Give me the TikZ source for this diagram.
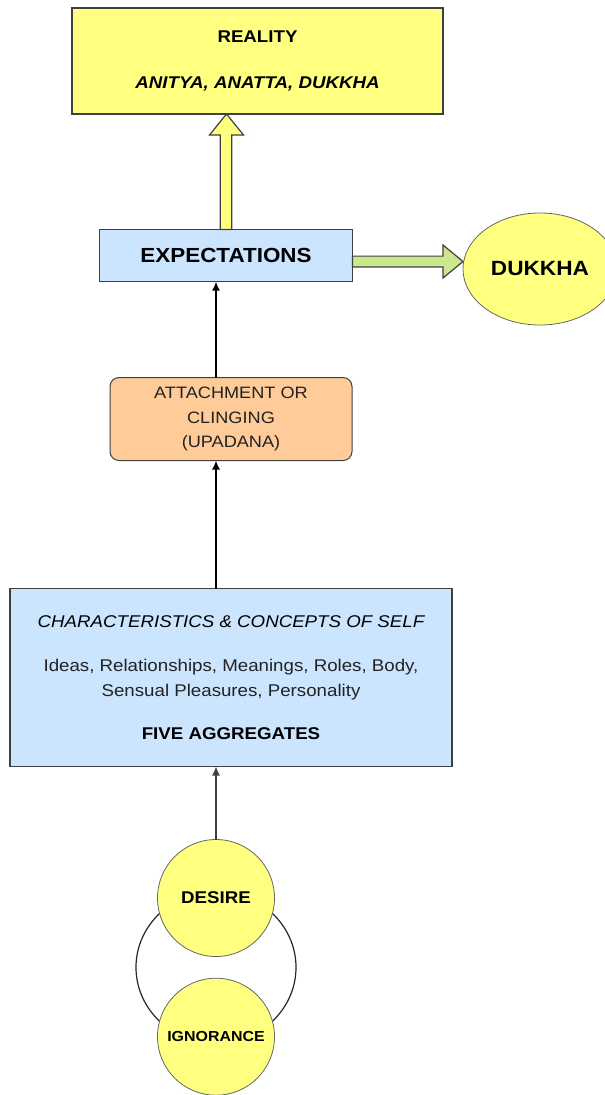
\documentclass[tikz,border=0pt]{standalone}
\usepackage{fontspec}
\setmainfont{Liberation Sans}[FakeStretch=1.1]
\usetikzlibrary{calc,shapes.geometric,backgrounds,arrows.meta}

\definecolor{edge}{HTML}{404040}
\definecolor{paleyellow}{HTML}{FFFF80}
\definecolor{paleblue}{HTML}{CCE5FF}
\definecolor{paleorange}{HTML}{FFCC99}
\definecolor{palegreen}{HTML}{CCE88C}
\definecolor{textgray}{HTML}{222222}

\begin{document}
\begin{tikzpicture}[x=1pt,y=-1pt,
  box/.style={draw=edge, line width=1.5pt, inner sep=0pt, outer sep=0pt, align=center},
  blob/.style={draw=edge!80, line width=0.8pt, fill=paleyellow, inner sep=0pt, outer sep=0pt},
  blockarrow/.style={draw=edge, line width=1.2pt, line join=miter},
  flow/.style={draw=black, -{Latex[length=9pt,width=8pt]}},
]
\useasboundingbox (0,0) rectangle (605,1095);

% boxes
\node[box, fill=paleyellow, minimum width=371pt, minimum height=106pt,
      font=\bfseries\fontsize{17}{20}\selectfont] (reality) at (257.5,61)
      {REALITY\\[26pt]\itshape ANITYA, ANATTA, DUKKHA};

\node[box, fill=paleblue, minimum width=253pt, minimum height=52pt,
      font=\bfseries\fontsize{20.4}{24}\selectfont] (expect) at (226,255.5) {EXPECTATIONS};

\node[ellipse, blob, minimum width=154pt, minimum height=112pt,
      font=\bfseries\fontsize{20.6}{24}\selectfont] (dukkha) at (540,269) {DUKKHA};

\node[box, line width=1pt, rounded corners=9pt, fill=paleorange, minimum width=242pt,
      minimum height=83pt, text=textgray,
      font=\fontsize{16.5}{24.3}\selectfont] (attach) at (231,419)
      {ATTACHMENT OR\\CLINGING\\(UPADANA)};

\node[box, fill=paleblue, minimum width=442pt, minimum height=178pt,
      font=\fontsize{17}{24.3}\selectfont] (five) at (231,677.5)
      {\itshape CHARACTERISTICS \& CONCEPTS OF SELF\\[20pt]
       \color{textgray}Ideas, Relationships, Meanings, Roles, Body,\\
       \color{textgray}Sensual Pleasures, Personality\\[19pt]
       \bfseries FIVE AGGREGATES};

% the two roots
\node[circle, blob, minimum size=117pt, font=\bfseries\fontsize{17}{20}\selectfont]
      (desire) at (216,898) {DESIRE};
\node[circle, blob, minimum size=117pt, font=\bfseries\fontsize{14.5}{18}\selectfont]
      (ignorance) at (216,1036.7) {IGNORANCE};

% loop joining desire and ignorance
\begin{scope}[on background layer]
  \draw[black!85, line width=1.2pt] ($(desire)!0.5!(ignorance)$) ellipse [x radius=80pt, y radius=76pt];
\end{scope}

% causal chain
\draw[flow, draw=black!75, line width=1.3pt] (desire.north) -- (desire |- five.south);
\draw[flow, line width=1.5pt] (desire |- five.north) -- (desire |- attach.south);
\draw[flow, line width=2pt] (desire |- attach.north) -- (desire |- expect.south);

% block arrow: expectations meet reality
\coordinate (ub) at (expect.north);
\coordinate (ut) at ($(expect.north |- reality.south)+(0.5,0)$);
\draw[blockarrow, fill=paleyellow]
  ($(ub)+(-5.8,0)$) -- ($(ut)+(-6.3,21)$) -- ($(ut)+(-17,21)$) -- (ut)
  -- ($(ut)+(17,21)$) -- ($(ut)+(5.3,21)$) -- ($(ub)+(5.8,0)$) -- cycle;

% block arrow: expectations lead to dukkha
\coordinate (gb) at ($(expect.east)+(0,6)$);
\coordinate (gt) at (dukkha.west |- gb);
\draw[blockarrow, fill=palegreen]
  ($(gb)+(0,-5.4)$) -- ($(gt)+(-20,-5.4)$) -- ($(gt)+(-20,-16.5)$) -- (gt)
  -- ($(gt)+(-20,16.5)$) -- ($(gt)+(-20,5.4)$) -- ($(gb)+(0,5.4)$) -- cycle;
\end{tikzpicture}
\end{document}
